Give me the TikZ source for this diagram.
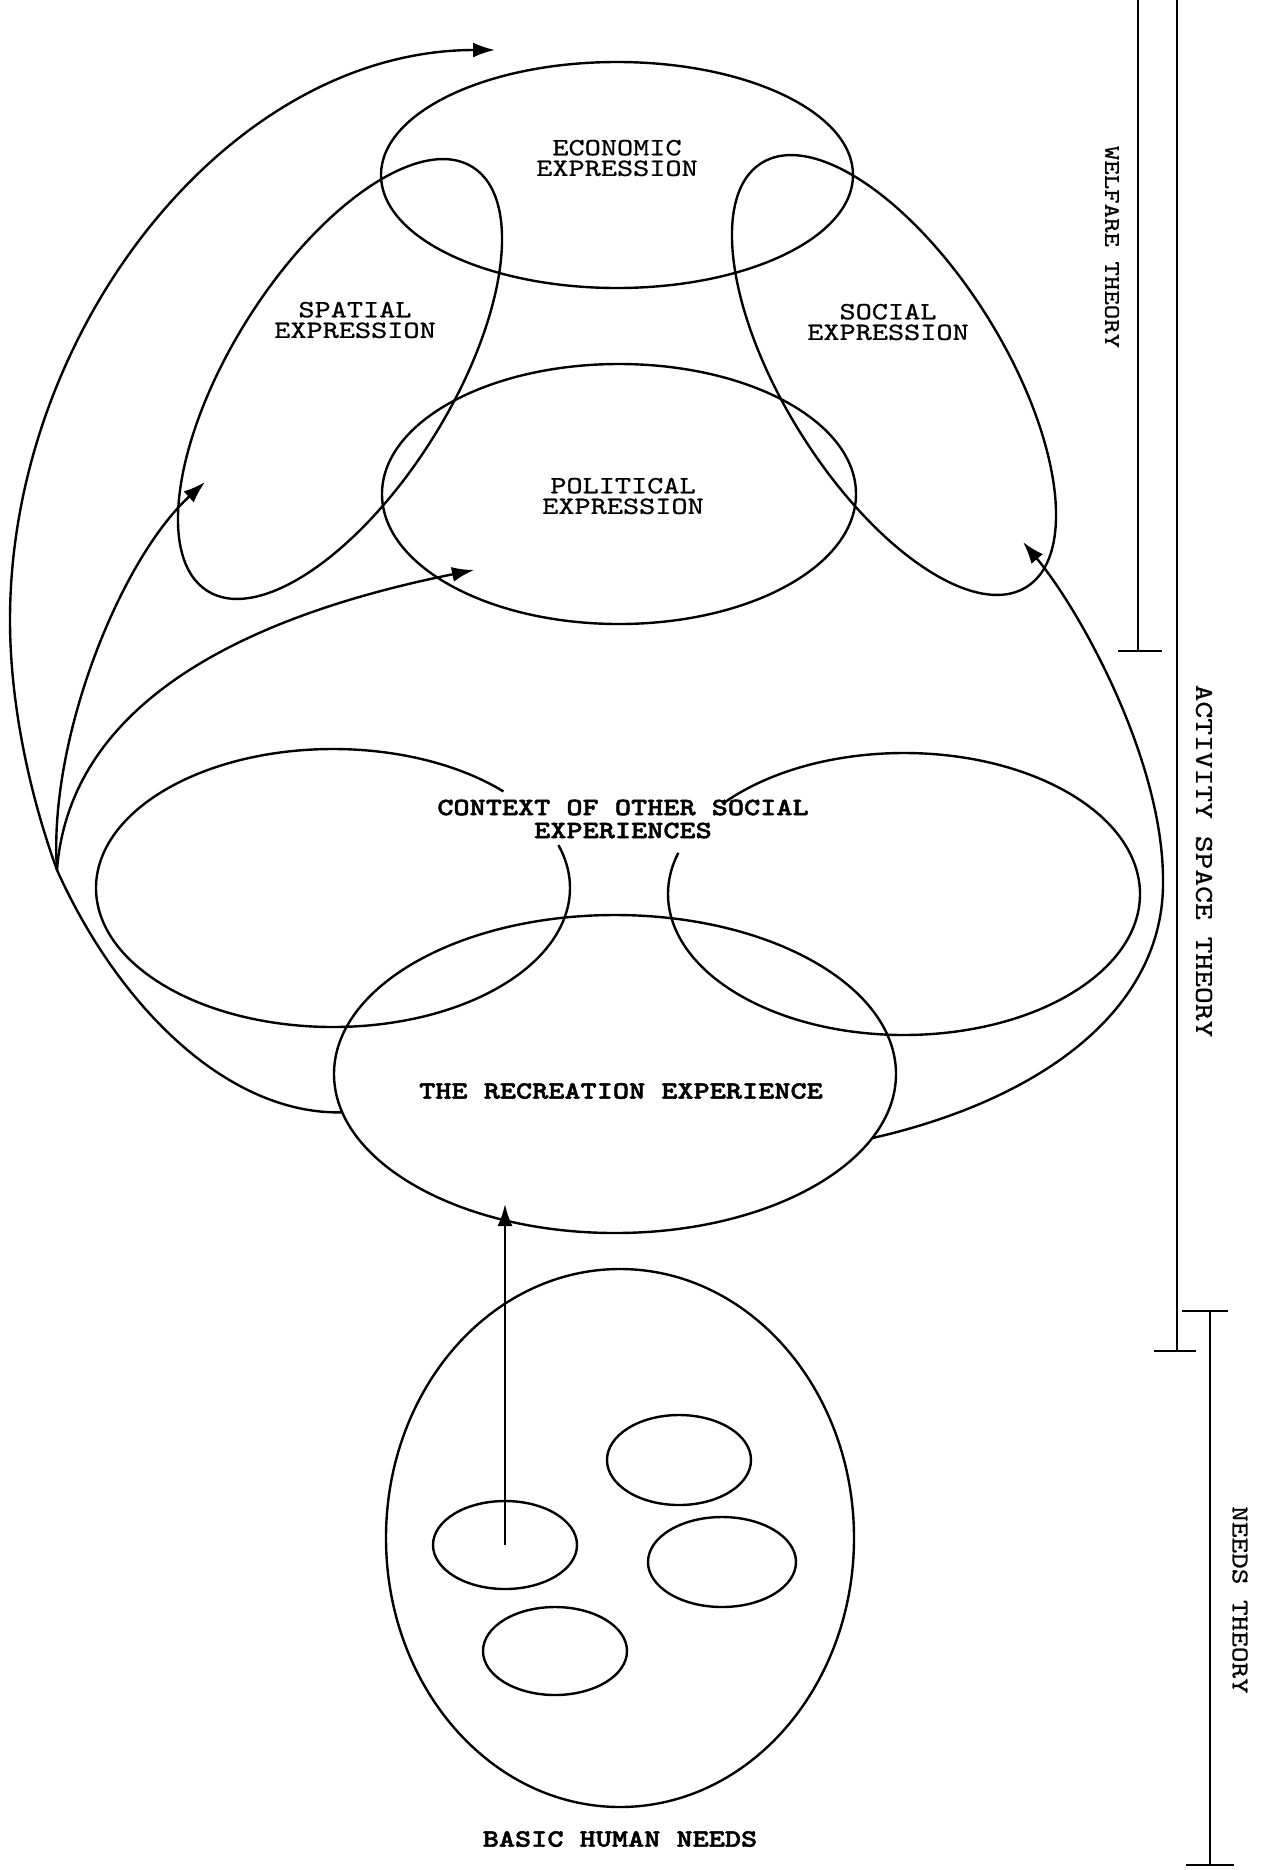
\documentclass[tikz,border=0pt]{standalone}
\usepackage{fontspec}
\newfontfamily\twr{lmmono10-regular.otf}[FakeStretch=1.24, FakeBold=0.8]
\newfontfamily\twb{lmmonolt10-bold.otf}[FakeStretch=1.24, FakeBold=2]
\usetikzlibrary{shapes.geometric,arrows.meta}
\begin{document}
\begin{tikzpicture}[x=0.5pt,y=0.5pt,
  line width=1.2pt,
  every node/.style={inner sep=0pt, outer sep=0pt},
  oval/.style={draw, ellipse, inner sep=0pt},
  lab/.style={font=\twr\fontsize{12.4}{10.3}\selectfont, align=center},
  blab/.style={font=\twb\fontsize{12.4}{11.5}\selectfont, align=center},
  arr/.style={-{Latex[length=11pt,width=7.5pt]}},
  tick/.style={line width=1.2pt}
]
\useasboundingbox (0,0) rectangle (1260,-1870);

% expression ellipses
\node[oval, minimum width=236pt, minimum height=113pt] (eco) at (617,-175) {};
\node[oval, rotate=58, minimum width=250pt, minimum height=110pt] (spa) at (340,-379) {};
\node[oval, rotate=-58, minimum width=250pt, minimum height=110pt] (soc) at (894,-375) {};
\node[oval, minimum width=237pt, minimum height=130pt] (pol) at (619,-494) {};

% context ellipses (open at the label)
\draw (333,-888) ++(44:237 and 139) arc[start angle=44, end angle=378, x radius=237, y radius=139];
\draw (904,-894) ++(140:236 and 141) arc[start angle=140, end angle=-197, x radius=236, y radius=141];

% recreation
\node[oval, minimum width=281pt, minimum height=159pt] (rec) at (615,-1074) {};

% basic needs
\node[oval, minimum width=234pt, minimum height=269pt] (bas) at (620,-1538) {};
\node[oval, minimum width=72pt, minimum height=45pt] (n1) at (679,-1460) {};
\node[oval, minimum width=72pt, minimum height=44pt] (n2) at (505,-1545) {};
\node[oval, minimum width=74pt, minimum height=45pt] (n3) at (722,-1562) {};
\node[oval, minimum width=72pt, minimum height=44pt] (n4) at (555,-1651) {};

% labels
\node[lab] (teco) at (617,-158) {ECONOMIC\\EXPRESSION};
\node[lab] (tspa) at (355,-320) {SPATIAL\\EXPRESSION};
\node[lab] (tsoc) at (888,-322) {SOCIAL\\EXPRESSION};
\node[lab] (tpol) at (623,-496) {POLITICAL\\EXPRESSION};
\node[blab] (tcon) at (623,-819) {CONTEXT OF OTHER SOCIAL\\EXPERIENCES};
\node[blab] (trec) at (621,-1091) {THE RECREATION EXPERIENCE};
\node[blab] (tbas) at (620,-1839) {BASIC HUMAN NEEDS};

\node[font=\twr\fontsize{11.1}{11}\selectfont, rotate=-90] (twel) at (1112,-247) {WELFARE THEORY};
\node[font=\twr\fontsize{12.9}{13}\selectfont, rotate=-90] (tact) at (1204,-861) {ACTIVITY SPACE THEORY};
\node[font=\twr\fontsize{12}{12}\selectfont, rotate=-90] (tnee) at (1240,-1600) {NEEDS THEORY};

% theory brackets
\coordinate (w1) at (1138,0);   \coordinate (w2) at (1138,-651);
\coordinate (a1) at (1177,0);   \coordinate (a2) at (1177,-1351);
\coordinate (s1) at (1210,-1311); \coordinate (s2) at (1210,-1865);
\draw (w1) -- (w2);
\draw[tick] ([xshift=-10pt]w2) -- ([xshift=12pt]w2);
\draw (a1) -- (a2);
\draw[tick] ([xshift=-11.5pt]a2) -- ([xshift=9.5pt]a2);
\draw (s1) -- (s2);
\draw[tick] ([xshift=-14pt]s1) -- ([xshift=9pt]s1);
\draw[tick] ([xshift=-12pt]s2) -- ([xshift=12pt]s2);

% connectors
\coordinate (hub) at (57,-870);
\coordinate (aeco) at (495,-50);
\coordinate (aspa) at (205,-482);
\coordinate (apol) at (474,-570);
\coordinate (asoc) at (1023,-542);
\coordinate (arec) at (505,-1204);

\draw[arr] (hub) .. controls (28,-790) and (10,-700) .. (10,-620)
  .. controls (10,-330) and (229,-50) .. (aeco);
\draw[arr] (hub) .. controls (48,-740) and (120,-560) .. (aspa);
\draw[arr] (hub) .. controls (70,-700) and (250,-615) .. (apol);
\draw (hub) .. controls (120,-1010) and (230,-1115) .. (rec.188);
\draw[arr] (rec.-14) .. controls (1040,-1100) and (1165,-1010) .. (1163,-880)
  .. controls (1163,-760) and (1080,-610) .. (asoc);
\draw[arr] (n2.center) -- (arec);
\end{tikzpicture}
\end{document}
